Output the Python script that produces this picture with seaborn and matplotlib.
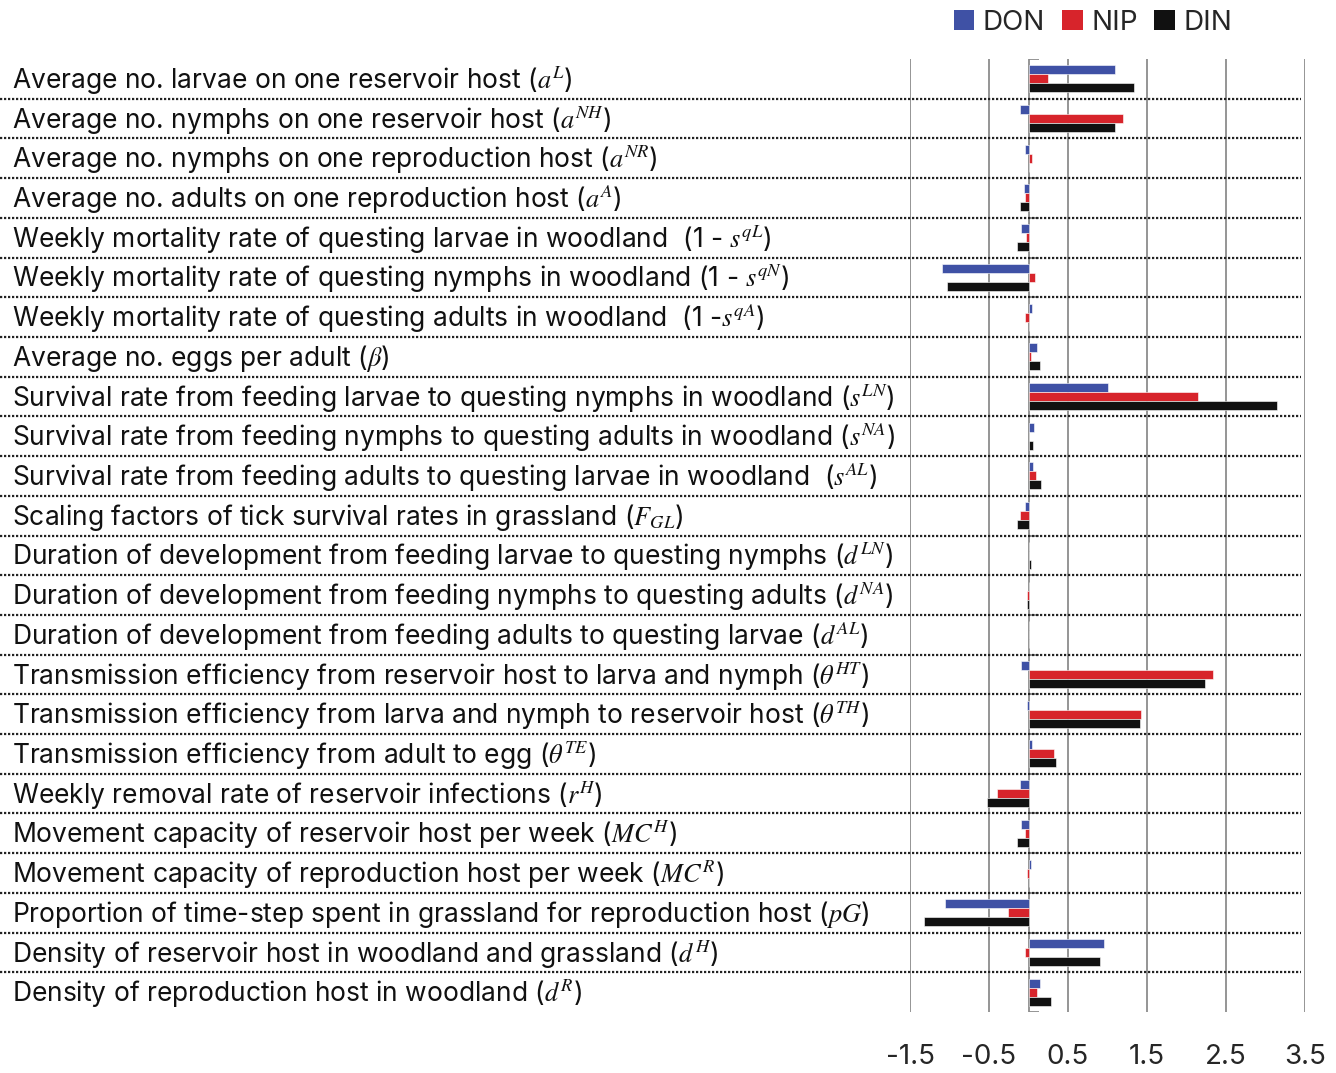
import pandas as pd
import matplotlib
matplotlib.use('Agg')
import matplotlib.pyplot as plt
import matplotlib.transforms as mtransforms
from matplotlib.lines import Line2D
from matplotlib.patches import Patch
import seaborn as sns

# 参数名称（自上而下）
params = [
    'Average no. larvae on one reservoir host ($a^{L}$)',
    'Average no. nymphs on one reservoir host ($a^{NH}$)',
    'Average no. nymphs on one reproduction host ($a^{NR}$)',
    'Average no. adults on one reproduction host ($a^{A}$)',
    'Weekly mortality rate of questing larvae in woodland  (1 - $s^{qL}$)',
    'Weekly mortality rate of questing nymphs in woodland (1 - $s^{qN}$)',
    'Weekly mortality rate of questing adults in woodland  (1 -$s^{qA}$)',
    'Average no. eggs per adult ($\\beta$)',
    'Survival rate from feeding larvae to questing nymphs in woodland ($s^{LN}$)',
    'Survival rate from feeding nymphs to questing adults in woodland ($s^{NA}$)',
    'Survival rate from feeding adults to questing larvae in woodland  ($s^{AL}$)',
    'Scaling factors of tick survival rates in grassland ($F_{GL}$)',
    'Duration of development from feeding larvae to questing nymphs ($d^{LN}$)',
    'Duration of development from feeding nymphs to questing adults ($d^{NA}$)',
    'Duration of development from feeding adults to questing larvae ($d^{AL}$)',
    'Transmission efficiency from reservoir host to larva and nymph ($\\theta^{HT}$)',
    'Transmission efficiency from larva and nymph to reservoir host ($\\theta^{TH}$)',
    'Transmission efficiency from adult to egg ($\\theta^{TE}$)',
    'Weekly removal rate of reservoir infections ($r^{H}$)',
    'Movement capacity of reservoir host per week ($MC^{H}$)',
    'Movement capacity of reproduction host per week ($MC^{R}$)',
    'Proportion of time-step spent in grassland for reproduction host ($pG$)',
    'Density of reservoir host in woodland and grassland ($d^{H}$)',
    'Density of reproduction host in woodland ($d^{R}$)',
]
don = [1.09, -0.11, -0.04, -0.06, -0.10, -1.09, 0.05, 0.11, 1.00, 0.07, 0.06, -0.04,
       0.01, 0.0, 0.0, -0.09, -0.02, 0.05, -0.11, -0.09, 0.03, -1.06, 0.95, 0.15]
nip = [0.25, 1.19, 0.05, -0.04, -0.03, 0.08, -0.04, 0.03, 2.14, 0.0, 0.10, -0.11,
       0.005, -0.02, 0.0, 2.33, 1.42, 0.32, -0.40, -0.05, -0.02, -0.26, -0.05, 0.11]
din = [1.34, 1.09, 0.0, -0.11, -0.14, -1.03, 0.0, 0.14, 3.14, 0.06, 0.16, -0.15,
       0.03, -0.02, 0.0, 2.23, 1.41, 0.35, -0.52, -0.14, 0.0, -1.32, 0.91, 0.28]
scenarios = ['DON', 'NIP', 'DIN']
colors = ['#3f51a5', '#d7242b', '#111111']
xticks = [-1.5, -0.5, 0.5, 1.5, 2.5, 3.5]

# 整理为长表
rows = []
for name, vals in zip(scenarios, [don, nip, din]):
    for p, v in zip(params, vals):
        rows.append({'param': p, 'value': v, 'scenario': name})
df = pd.DataFrame(rows)

sns.set_style('white')
plt.rcParams['font.family'] = ['Inter', 'Liberation Sans', 'DejaVu Sans']
plt.rcParams['mathtext.fontset'] = 'stix'

W, H = 1336, 1073
fig = plt.figure(figsize=(W / 100, H / 100), dpi=100)
ax = fig.add_axes([910 / W, 1 - 1012 / H, (1305 - 910) / W, (1012 - 59) / H])

# 网格线与零轴
for xt in xticks:
    ax.axvline(xt, color='#8c8c8c', lw=1.3, zorder=0)
ax.axvline(0, color='#8c8c8c', lw=1.3, zorder=0)

sns.barplot(data=df, x='value', y='param', hue='scenario', orient='h',
            hue_order=scenarios, palette=colors, width=0.68, order=params,
            edgecolor='white', linewidth=0.4, saturation=1, legend=False, ax=ax)

n = len(params)
ax.hlines([k - 0.5 for k in range(n + 1)], 0, 0.13, color='#8c8c8c', lw=1.3, zorder=1)
ax.set_xlim(-1.5, 3.5)
ax.set_ylim(n - 0.5, -0.5)
ax.set_xticks(xticks)
ax.set_xticklabels([str(t) for t in xticks], fontsize=20)
ax.tick_params(axis='x', length=0, pad=23)
ax.set_yticks([])
ax.set_xlabel('')
ax.set_ylabel('')
for s in ax.spines.values():
    s.set_visible(False)

# 左侧参数标签与虚线分隔
trans = mtransforms.blended_transform_factory(fig.transFigure, ax.transData)
for i, p in enumerate(params):
    ax.text(12 / W, i + 0.05, p, transform=trans, ha='left', va='center',
            fontsize=19, color='#111111', clip_on=False)
for k in range(1, n):
    ln = Line2D([0, 1301 / W], [k - 0.5, k - 0.5], transform=trans, color='#222222',
                lw=1.6, linestyle=(0, (1, 0.8)), clip_on=False)
    ax.add_line(ln)

handles = [Patch(facecolor=c, edgecolor='none') for c in colors]
fig.legend(handles, scenarios, ncol=3, loc='center', bbox_to_anchor=(1093 / W, 1 - 23 / H),
           frameon=False, fontsize=20, handlelength=0.75, handleheight=0.75,
           handletextpad=0.3, columnspacing=0.6)

fig.savefig('out.png', dpi=100)
